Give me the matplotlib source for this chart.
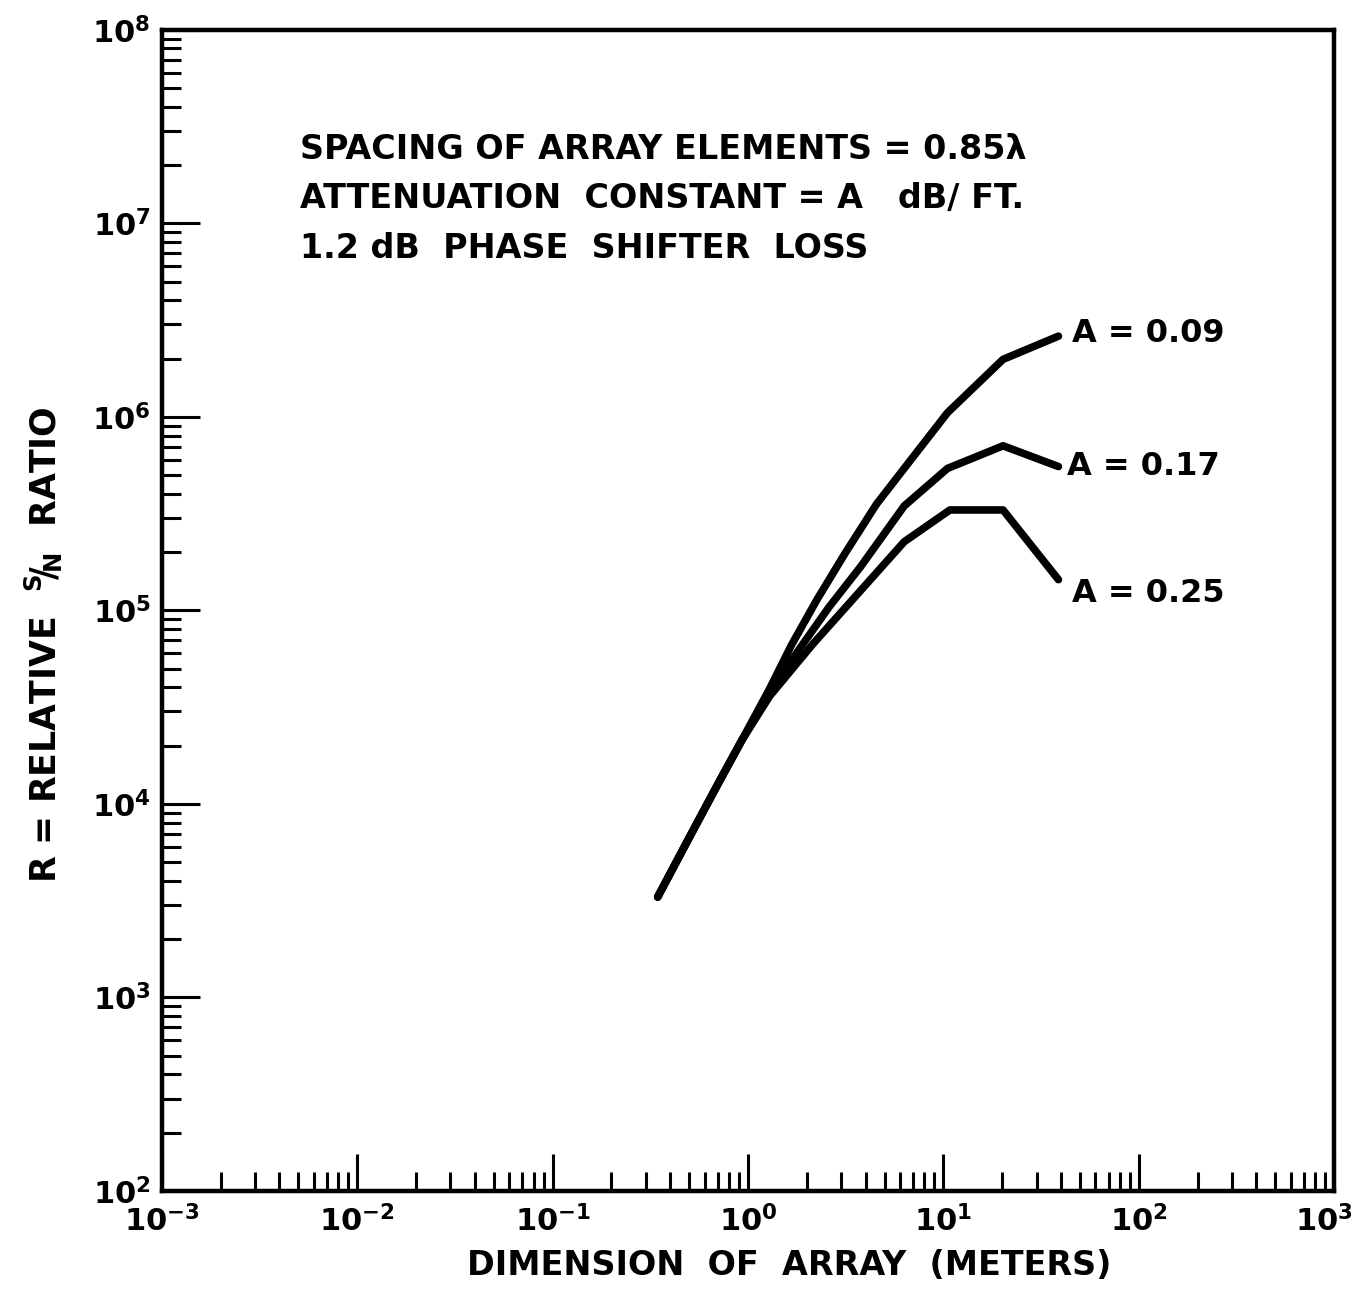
import matplotlib
matplotlib.use("Agg")
import matplotlib.pyplot as plt
from matplotlib.ticker import LogLocator, NullFormatter, FixedLocator
import matplotlib.transforms as mtransforms
import numpy as np

plt.rcParams['font.family'] = ['DejaVu Sans']
plt.rcParams['font.weight'] = 'bold'
plt.rcParams['mathtext.fontset'] = 'dejavusans'
plt.rcParams['mathtext.default'] = 'bf'

# ---- data ----
x_09 = [0.345, 0.507, 0.703, 0.93, 1.29, 1.67, 2.26, 3.13, 4.54, 6.30, 10.5, 20.2, 38.8]
y_09 = [3.3e3, 6.86e3, 1.27e4, 2.13e4, 3.93e4, 6.62e4, 1.14e5, 1.96e5, 3.53e5, 5.41e5, 1.05e6, 1.98e6, 2.61e6]

x_17 = [0.345, 0.507, 0.703, 0.93, 1.29, 1.79, 2.60, 3.77, 6.30, 10.5, 20.2, 38.8]
y_17 = [3.3e3, 6.86e3, 1.27e4, 2.13e4, 3.75e4, 6.1e4, 1.04e5, 1.68e5, 3.46e5, 5.41e5, 7.08e5, 5.53e5]

x_25 = [0.345, 0.507, 0.703, 0.93, 1.29, 2.15, 3.28, 6.30, 10.8, 20.2, 38.8]
y_25 = [3.3e3, 6.86e3, 1.27e4, 2.13e4, 3.6e4, 6.7e4, 1.08e5, 2.26e5, 3.30e5, 3.30e5, 1.44e5]

series_labels = ["A = 0.09", "A = 0.17", "A = 0.25"]
label_offsets = [(10, 2), (6, 0), (10, -10)]

x_ticks = [1e-3, 1e-2, 1e-1, 1e0, 1e1, 1e2, 1e3]
x_ticklabels = [r"$10^{-3}$", r"$10^{-2}$", r"$10^{-1}$", r"$10^{0}$", r"$10^{1}$", r"$10^{2}$", r"$10^{3}$"]
y_ticks = [1e2, 1e3, 1e4, 1e5, 1e6, 1e7, 1e8]
y_ticklabels = [r"$10^{2}$", r"$10^{3}$", r"$10^{4}$", r"$10^{5}$", r"$10^{6}$", r"$10^{7}$", r"$10^{8}$"]

notes = ["SPACING OF ARRAY ELEMENTS = 0.85λ",
         "ATTENUATION  CONSTANT = A   dB/ FT.",
         "1.2 dB  PHASE  SHIFTER  LOSS"]

xlabel = "DIMENSION  OF  ARRAY  (METERS)"
ylabel = r"R = RELATIVE  $^{S}\!/\!_{N}$  RATIO"

# ---- figure ----
fig = plt.figure(figsize=(13.6, 12.93), dpi=100)
ax = fig.add_axes([0.119, 0.079, 0.862, 0.898])
ax.set_xscale('log')
ax.set_yscale('log')
ax.set_xlim(1e-3, 1e3)
ax.set_ylim(1e2, 1e8)

for xs, ys, lab, off in zip([x_09, x_17, x_25], [y_09, y_17, y_25], series_labels, label_offsets):
    ax.plot(xs, ys, color='black', lw=5.5, solid_capstyle='round', solid_joinstyle='round')
    ax.annotate(lab, xy=(xs[-1], ys[-1]), xytext=off, textcoords='offset points',
                ha='left', va='center', fontsize=23, fontweight='bold')

for s in ax.spines.values():
    s.set_linewidth(3.2)

ax.xaxis.set_major_locator(FixedLocator(x_ticks))
ax.set_xticklabels(x_ticklabels)
ax.yaxis.set_major_locator(FixedLocator(y_ticks))
ax.set_yticklabels(y_ticklabels)
ax.xaxis.set_minor_locator(LogLocator(base=10, subs=np.arange(2, 10), numticks=50))
ax.yaxis.set_minor_locator(LogLocator(base=10, subs=np.arange(2, 10), numticks=50))
ax.xaxis.set_minor_formatter(NullFormatter())
ax.yaxis.set_minor_formatter(NullFormatter())

ax.tick_params(axis='both', which='major', direction='in', length=27, width=2.2,
               labelsize=22, top=False, right=False)
ax.tick_params(axis='both', which='minor', direction='in', length=14, width=2.2,
               top=False, right=False)
ax.tick_params(axis='x', which='major', pad=10)
ax.tick_params(axis='y', which='major', pad=8)

# keep last x tick label inside the figure
last = ax.get_xticklabels()[-1]
last.set_transform(last.get_transform() + mtransforms.ScaledTranslation(-10 / 100, 0, fig.dpi_scale_trans))

ax.set_xlabel(xlabel, fontsize=24, fontweight='bold')
ax.xaxis.set_label_coords(0.535, -0.05)
ax.set_ylabel(ylabel, fontsize=25, fontweight='bold')
ax.yaxis.set_label_coords(-0.083, 0.47)

for i, t in enumerate(notes):
    ax.text(0.118, 0.897 - i * 0.0425, t, transform=ax.transAxes, fontsize=24,
            fontweight='bold', ha='left', va='center')

fig.savefig("out.png", dpi=100)
